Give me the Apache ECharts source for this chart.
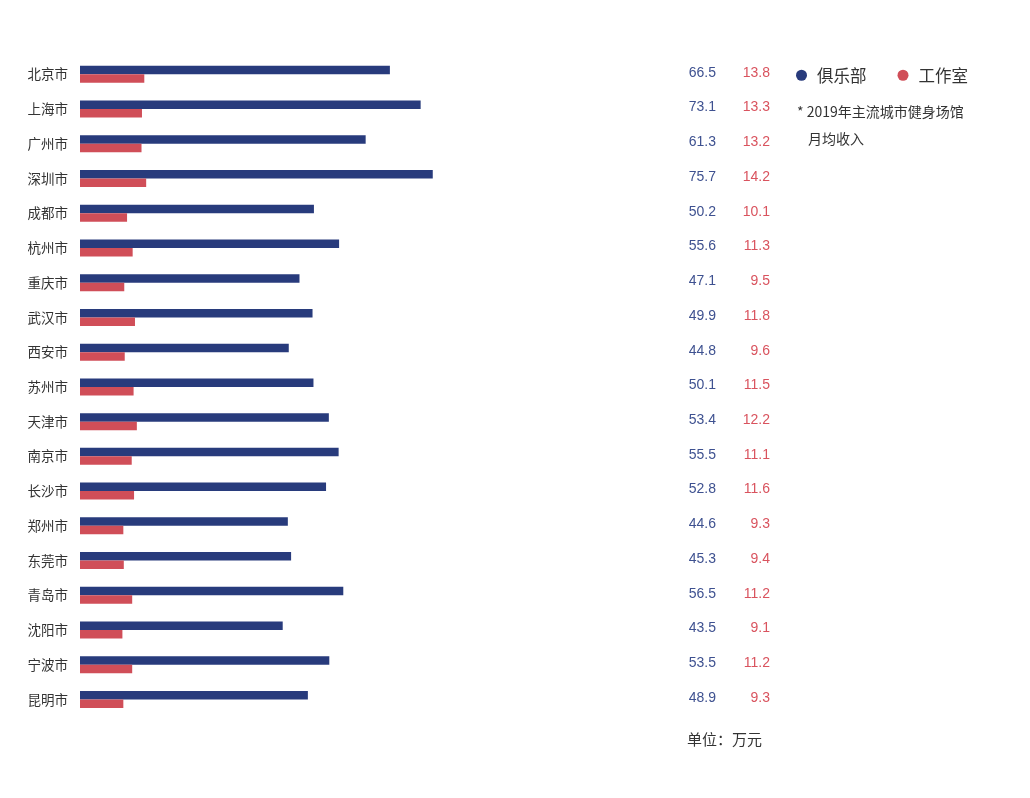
<!DOCTYPE html>
<html><head><meta charset="utf-8">
<script src="https://cdn.jsdelivr.net/npm/echarts@6/dist/echarts.min.js"></script>
<style>html,body{margin:0;padding:0;background:#fff}#c{width:1030px;height:798px}</style>
</head><body><div id="c"></div>
<script>
const cities = ['北京市','上海市','广州市','深圳市','成都市','杭州市','重庆市','武汉市','西安市','苏州市','天津市','南京市','长沙市','郑州市','东莞市','青岛市','沈阳市','宁波市','昆明市'];
const club = [66.5,73.1,61.3,75.7,50.2,55.6,47.1,49.9,44.8,50.1,53.4,55.5,52.8,44.6,45.3,56.5,43.5,53.5,48.9];
const studio = [13.8,13.3,13.2,14.2,10.1,11.3,9.5,11.8,9.6,11.5,12.2,11.1,11.6,9.3,9.4,11.2,9.1,11.2,9.3];
const seriesNames = ['俱乐部','工作室'];
const noteLines = ['* 2019年主流城市健身场馆','月均收入'];
const unitText = '单位：万元';

const FONT = '"Noto Sans CJK SC", "Noto Sans", sans-serif';
const chart = echarts.init(document.getElementById('c'));
chart.setOption({
  animation: false,
  backgroundColor: '#fff',
  textStyle: { fontFamily: FONT },
  grid: { left: 80, top: 57, width: 466, height: 659.8, containLabel: false },
  xAxis: { type: 'value', min: 0, max: 100, show: false },
  yAxis: {
    type: 'category', data: cities, inverse: true,
    axisLine: { show: false }, axisTick: { show: false }, splitLine: { show: false },
    axisLabel: { color: '#333', fontSize: 13.5, margin: 12, fontFamily: FONT }
  },
  legend: {
    data: seriesNames, left: 791, top: 62, icon: 'circle', itemWidth: 11, itemHeight: 11,
    itemGap: 31, textStyle: { color: '#333', fontSize: 16.5, fontFamily: FONT, padding: [0, 0, 0, 5] }
  },
  series: [
    {
      name: seriesNames[0], type: 'bar', data: club, barWidth: 8.5, barGap: '0%',
      itemStyle: { color: '#283B7C' },
      label: { show: true, position: [636, 7], align: 'right', verticalAlign: 'middle',
        color: '#3E5190', fontSize: 14, fontFamily: 'Liberation Sans, Arial, sans-serif' }
    },
    {
      name: seriesNames[1], type: 'bar', data: studio, barWidth: 8.5, barGap: '0%',
      itemStyle: { color: '#D04E58' },
      label: { show: true, position: [690, -1.5], align: 'right', verticalAlign: 'middle',
        color: '#D9535E', fontSize: 14, fontFamily: 'Liberation Sans, Arial, sans-serif' }
    }
  ],
  graphic: [
    { type: 'text', left: 797, top: 105, style: { text: noteLines[0], fill: '#333', font: '14px ' + FONT } },
    { type: 'text', left: 808, top: 132, style: { text: noteLines[1], fill: '#333', font: '14px ' + FONT } },
    { type: 'text', left: 687, top: 732, style: { text: unitText, fill: '#333', font: '15px ' + FONT } }
  ]
});
</script></body></html>
